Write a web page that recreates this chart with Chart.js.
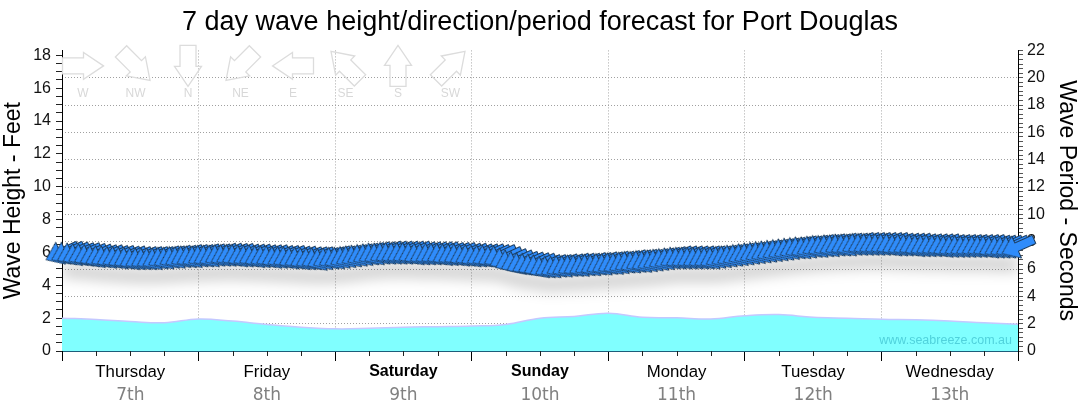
<!DOCTYPE html>
<html>
<head>
<meta charset="utf-8">
<script src="https://cdn.jsdelivr.net/npm/chart.js@4.4.1/dist/chart.umd.min.js"></script>
<style>
  html, body { margin: 0; padding: 0; background: #fff; }
  #wrap { width: 1080px; height: 414px; }
</style>
</head>
<body>
<div id="wrap"><canvas id="waveChart" width="1080" height="414"></canvas></div>
<script>
// day labels along the bottom
const days = ["Thursday", "Friday", "Saturday", "Sunday", "Monday", "Tuesday", "Wednesday"];
const dates = ["7th", "8th", "9th", "10th", "11th", "12th", "13th"];
const boldDays = ["Saturday", "Sunday"];

// wave height in feet, every 6 hours from Thursday 00:00
const waveHeight = [
  2.0, 1.92, 1.8, 1.72, 1.95, 1.82, 1.62, 1.45, 1.35, 1.38, 1.45, 1.48, 1.52,
  1.62, 2.0, 2.1, 2.3, 2.05, 2.02, 1.95, 2.15, 2.22, 2.05, 2.0, 1.93, 1.9, 1.83, 1.72, 1.63
];

// wave period in seconds, hourly (one arrow per hour)
const wavePeriod = [
  7.2, 7.2, 7.15, 7.1, 7.1, 7.05, 7.0, 6.95, 6.95, 6.9, 6.9, 6.85, 6.85, 6.8, 6.8, 6.8, 6.8, 6.8, 6.85, 6.85, 6.9, 6.9, 6.95, 6.95,
  6.95, 7.0, 7.0, 7.0, 7.05, 7.05, 7.05, 7.05, 7.0, 7.0, 7.0, 6.95, 6.95, 6.95, 6.9, 6.9, 6.9, 6.85, 6.85, 6.8, 6.8, 6.8, 6.75, 6.8,
  6.85, 6.85, 6.9, 6.95, 7.0, 7.05, 7.1, 7.15, 7.15, 7.2, 7.2, 7.2, 7.2, 7.2, 7.2, 7.15, 7.15, 7.15, 7.15, 7.15, 7.1, 7.1, 7.1, 7.05,
  7.05, 7.0, 7.0, 7.0, 6.95, 6.95, 6.8, 6.65, 6.55, 6.45, 6.4, 6.35, 6.3, 6.2, 6.2, 6.2, 6.25, 6.25, 6.3, 6.3, 6.3, 6.35, 6.35, 6.4,
  6.4, 6.45, 6.45, 6.5, 6.55, 6.55, 6.6, 6.6, 6.65, 6.7, 6.75, 6.8, 6.85, 6.85, 6.85, 6.85, 6.85, 6.85, 6.85, 6.85, 6.9, 6.95, 7.0, 7.05,
  7.1, 7.15, 7.2, 7.25, 7.3, 7.35, 7.4, 7.45, 7.5, 7.55, 7.6, 7.6, 7.65, 7.7, 7.7, 7.75, 7.75, 7.8, 7.8, 7.8, 7.85, 7.85, 7.85, 7.85,
  7.85, 7.85, 7.85, 7.8, 7.8, 7.8, 7.8, 7.75, 7.75, 7.75, 7.75, 7.75, 7.7, 7.7, 7.7, 7.7, 7.7, 7.7, 7.7, 7.7, 7.65, 7.65, 7.65, 7.65, 7.65
];

// wave direction (degrees, coming from), every 6 hours
const waveDir = [
  66, 66, 65, 65, 65, 66, 66, 66, 65, 65, 65, 65, 65, 65, 64,
  64, 64, 65, 65, 65, 66, 66, 66, 66, 66, 66, 66, 66, 66
];

// compass key in the top-left corner
const compassNames = ["W", "NW", "N", "NE", "E", "SE", "S", "SW"];
const compassDeg = [270, 315, 0, 45, 90, 135, 180, 225];

const heightPoints = waveHeight.map((v, i) => ({ x: i * 6, y: v }));
const periodPoints = wavePeriod.map((v, i) => ({ x: i, y: v }));

function arrowPath(ctx, len, headLen, headHalf, shaftHalf) {
  const h = len / 2;
  ctx.beginPath();
  ctx.moveTo(h, 0);
  ctx.lineTo(h - headLen, -headHalf);
  ctx.lineTo(h - headLen, -shaftHalf);
  ctx.lineTo(-h, -shaftHalf);
  ctx.lineTo(-h, shaftHalf);
  ctx.lineTo(h - headLen, shaftHalf);
  ctx.lineTo(h - headLen, headHalf);
  ctx.closePath();
}

// the blue arrow used as point style (points right, rotated per point)
const arrowImg = document.createElement("canvas");
arrowImg.width = 48;
arrowImg.height = 48;
(function () {
  const c = arrowImg.getContext("2d");
  c.translate(24, 24);
  arrowPath(c, 35, 16, 12, 4.5);
  c.fillStyle = "#2f8cfb";
  c.fill();
  c.lineWidth = 1;
  c.strokeStyle = "#1b3a5a";
  c.stroke();
})();

const shadowPlugin = {
  id: "bandShadow",
  beforeDatasetDraw(chart, args) {
    if (!chart.data.datasets[args.index].isShadow) return;
    const ctx = chart.ctx;
    ctx.save();
    ctx.filter = "blur(7px)";
    ctx.translate(0, 18);
  },
  afterDatasetDraw(chart, args) {
    if (chart.data.datasets[args.index].isShadow) chart.ctx.restore();
  }
};

const extrasPlugin = {
  id: "extras",
  beforeDatasetsDraw(chart) {
    const ctx = chart.ctx;
    const area = chart.chartArea;
    ctx.save();
    compassNames.forEach((name, i) => {
      const cx = area.left + 21 + i * 52.5;
      const cy = area.top + 15.5;
      ctx.save();
      ctx.translate(cx, cy);
      ctx.rotate((compassDeg[i] + 90) * Math.PI / 180);
      arrowPath(ctx, 41, 20, 13.5, 8);
      ctx.lineWidth = 1.3;
      ctx.strokeStyle = "#dcdcdc";
      ctx.stroke();
      ctx.restore();
      ctx.fillStyle = "#d8d8d8";
      ctx.font = "12px 'Liberation Sans'";
      ctx.textAlign = "center";
      ctx.textBaseline = "middle";
      ctx.fillText(name, cx, area.top + 43);
    });
    ctx.restore();
  },
  afterDatasetsDraw(chart) {
    const ctx = chart.ctx;
    const area = chart.chartArea;
    ctx.save();
    ctx.fillStyle = "#50d2dc";
    ctx.font = "12.5px 'Liberation Sans'";
    ctx.textAlign = "right";
    ctx.textBaseline = "middle";
    ctx.fillText("www.seabreeze.com.au", area.right - 6, area.bottom - 10);
    ctx.restore();
  },
  afterDraw(chart) {
    // short 6-hourly ticks under the x axis
    const ctx = chart.ctx;
    const xs = chart.scales.x;
    ctx.save();
    ctx.strokeStyle = "#222";
    ctx.lineWidth = 1;
    xs.ticks.forEach(t => {
      if (t.value % 24 === 0) return;
      const px = Math.round(xs.getPixelForValue(t.value)) + 0.5;
      ctx.beginPath();
      ctx.moveTo(px, xs.top);
      ctx.lineTo(px, xs.top + 5);
      ctx.stroke();
    });
    ctx.restore();
  }
};

new Chart(document.getElementById("waveChart"), {
  type: "line",
  data: {
    datasets: [
      {
        label: "Direction / Period",
        data: periodPoints,
        yAxisID: "y1",
        showLine: false,
        pointStyle: arrowImg,
        pointRadius: 5,
        pointRotation: c => waveDir[Math.floor(c.dataIndex / 6)] + 90,
        clip: false,
        order: 0
      },
      {
        label: "shadow",
        isShadow: true,
        data: periodPoints,
        yAxisID: "y1",
        borderColor: "rgba(0,0,0,0.2)",
        borderWidth: 13,
        pointRadius: 0,
        tension: 0.4,
        order: 1
      },
      {
        label: "Wave Height",
        data: heightPoints,
        yAxisID: "y",
        fill: "origin",
        backgroundColor: "#80ffff",
        borderColor: "#c4c8ff",
        borderWidth: 1.5,
        pointRadius: 0,
        tension: 0.4,
        order: 2
      }
    ]
  },
  options: {
    responsive: false,
    animation: false,
    events: [],
    plugins: {
      legend: { display: false },
      tooltip: { enabled: false },
      title: {
        display: true,
        text: "7 day wave height/direction/period forecast for Port Douglas",
        color: "#000",
        font: { family: "'Liberation Sans'", size: 27, weight: "normal" },
        padding: { top: 6, bottom: 12 }
      }
    },
    scales: {
      x: {
        type: "linear",
        position: "bottom",
        min: 0,
        max: 168,
        afterBuildTicks: s => {
          const t = [];
          for (let h = 0; h <= 168; h += 6) t.push({ value: h });
          s.ticks = t;
        },
        afterFit: s => { s.height = 34; },
        ticks: {
          autoSkip: false,
          maxRotation: 0,
          padding: 1,
          color: "#000",
          font: c => {
            const bold = c.tick && c.tick.value % 24 === 12 && boldDays.includes(days[(c.tick.value - 12) / 24]);
            return { family: "'Liberation Sans'", size: bold ? 16 : 16.8, weight: bold ? "bold" : "normal" };
          },
          callback: v => (v % 24 === 12 ? days[(v - 12) / 24] : "")
        },
        grid: {
          color: c => (c.tick && c.tick.value % 24 === 0 && c.tick.value > 0 && c.tick.value < 168) ? "#a8a8a8" : "rgba(0,0,0,0)",
          tickColor: c => (c.tick && c.tick.value % 24 === 0) ? "#000" : "rgba(0,0,0,0)",
          tickLength: 10
        },
        border: { color: "#1d5d7a", width: 1, dash: [1, 2] }
      },
      xDate: {
        type: "linear",
        position: "bottom",
        min: 0,
        max: 168,
        afterBuildTicks: s => {
          s.ticks = dates.map((d, i) => ({ value: i * 24 + 12 }));
        },
        afterFit: s => { s.height = 29; },
        ticks: {
          autoSkip: false,
          maxRotation: 0,
          padding: 0,
          color: "#808080",
          font: { family: "'DejaVu Sans'", size: 17 },
          callback: (v, i) => dates[i]
        },
        grid: { display: false, drawTicks: false },
        border: { display: false }
      },
      y: {
        type: "linear",
        position: "left",
        min: 0,
        max: 18.3,
        afterBuildTicks: s => {
          const t = [];
          for (let v = 0; v <= 18; v += 0.5) t.push({ value: v });
          s.ticks = t;
        },
        afterFit: s => { s.width = 62; },
        ticks: {
          autoSkip: false,
          padding: 5,
          color: "#111",
          font: { family: "'Liberation Sans'", size: 16 },
          callback: v => (v % 2 === 0 ? v : "")
        },
        grid: { drawOnChartArea: false, tickColor: "#222", tickLength: 6 },
        border: { color: "#000", width: 1 },
        title: {
          display: true,
          text: "Wave Height - Feet",
          color: "#000",
          font: { family: "'Liberation Sans'", size: 23 },
          padding: 0
        }
      },
      y1: {
        type: "linear",
        position: "right",
        min: 0,
        max: 22,
        afterBuildTicks: s => {
          const t = [];
          for (let i = 0; i <= 66; i++) t.push({ value: i / 3 });
          s.ticks = t;
        },
        afterFit: s => { s.width = 62; },
        ticks: {
          autoSkip: false,
          padding: 4,
          color: "#111",
          font: { family: "'Liberation Sans'", size: 16 },
          callback: (v, i) => (i % 6 === 0 ? Math.round(v) : "")
        },
        grid: {
          color: c => {
            if (!c.tick) return "rgba(0,0,0,0)";
            const v = c.tick.value;
            const r = Math.round(v);
            return (Math.abs(v - r) < 1e-6 && r % 2 === 0 && r > 0 && r < 22) ? "#a0a0a0" : "rgba(0,0,0,0)";
          },
          tickColor: "#555",
          tickLength: 5
        },
        border: { color: "#000", width: 1, dash: [1, 2] },
        title: {
          display: true,
          text: "Wave Period - Seconds",
          color: "#000",
          font: { family: "'Liberation Sans'", size: 23 },
          padding: 0
        }
      }
    }
  },
  plugins: [shadowPlugin, extrasPlugin]
});
</script>
</body>
</html>
